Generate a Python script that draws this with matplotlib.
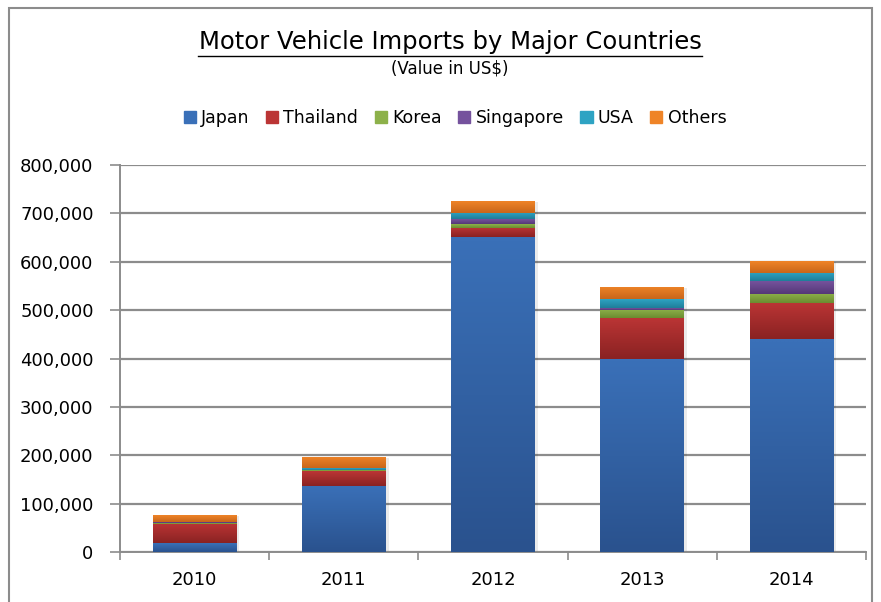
import matplotlib
matplotlib.use("Agg")
import matplotlib.pyplot as plt
import numpy as np
from matplotlib.patches import Rectangle
from matplotlib.ticker import FuncFormatter, MultipleLocator, FixedLocator

years = ["2010", "2011", "2012", "2013", "2014"]
japan = [18000, 137000, 651000, 398000, 440000]
thailand = [40000, 31000, 19000, 86000, 75000]
korea = [1000, 1000, 8000, 17000, 19000]
singapore = [3000, 1000, 10000, 4000, 26000]
usa = [1000, 4000, 13000, 18000, 17000]
others = [14000, 23000, 24000, 25000, 24000]

series = [
    ("Japan", japan, "#3a70b8", "#2a528e"),
    ("Thailand", thailand, "#bb3535", "#8a2222"),
    ("Korea", korea, "#8db14a", "#6b8c30"),
    ("Singapore", singapore, "#75529d", "#553877"),
    ("USA", usa, "#2ea3c3", "#1f7e99"),
    ("Others", others, "#ef8427", "#c9661a"),
]

plt.rcParams['font.family'] = ['DejaVu Sans']
fig = plt.figure(figsize=(8.81, 6.02), dpi=100)
ax = fig.add_axes([120/881, 1-552/602, (866-120)/881, (552-165)/602])

x = np.arange(len(years))
width = 0.56
bottom = np.zeros(len(years))
handles = []
for name, vals, ctop, cbot in series:
    vals = np.array(vals, dtype=float)
    bars = ax.bar(x, vals, width, bottom=bottom, color=ctop, label=name, zorder=3,
                  linewidth=0)
    handles.append(Rectangle((0, 0), 1, 1, color=ctop))
    grad = np.linspace(0, 1, 64).reshape(-1, 1)
    cmap = matplotlib.colors.LinearSegmentedColormap.from_list("g", [cbot, ctop])
    for b in bars:
        bx, by = b.get_x(), b.get_y()
        bw, bh = b.get_width(), b.get_height()
        if bh <= 0:
            continue
        im = ax.imshow(grad, cmap=cmap, aspect='auto', origin='lower',
                       extent=[bx, bx + bw, by, by + bh], zorder=4,
                       interpolation='bilinear')
        im.set_clip_path(b)
    bottom += vals

# subtle shadow
for i, tot in enumerate(bottom):
    ax.add_patch(Rectangle((x[i] - width/2 + 0.02, 0), width, tot - 2500,
                           facecolor="#000000", alpha=0.08, zorder=2, linewidth=0))

ax.set_xlim(-0.5, len(years) - 0.5)
ax.set_ylim(0, 800000)
ax.yaxis.set_major_locator(MultipleLocator(100000))
ax.yaxis.set_major_formatter(FuncFormatter(lambda v, p: f"{int(v):,}"))
ax.grid(axis='y', color='#8c8c8c', linewidth=1.6, zorder=1)
ax.set_xticks(x)
ax.set_xticklabels(years)
ax.xaxis.set_minor_locator(FixedLocator(np.arange(-0.5, len(years), 1)))
ax.tick_params(axis='x', which='major', length=0, pad=14, labelsize=13)
ax.tick_params(axis='x', which='minor', length=6, width=1.2, color='#8c8c8c', direction='out')
ax.tick_params(axis='y', length=7, width=1.2, color='#8c8c8c', labelsize=13, pad=12)
for s in ['top', 'right']:
    ax.spines[s].set_visible(False)
for s in ['left', 'bottom']:
    ax.spines[s].set_color('#8c8c8c')
    ax.spines[s].set_linewidth(1.4)

fig.text(450/881, 1-42/602, "Motor Vehicle Imports by Major Countries", ha='center', va='center',
         fontsize=17.5)
fig.add_artist(matplotlib.lines.Line2D([198/881, 702/881], [1-56/602, 1-56/602],
                                       color='black', linewidth=1))
fig.text(450/881, 1-69/602, "(Value in US$)", ha='center', va='center', fontsize=12)

fig.legend(handles, [s[0] for s in series], loc='center', bbox_to_anchor=(455/881, 1-118/602),
           ncol=6, frameon=False, fontsize=12.5, handlelength=0.7, handleheight=0.7,
           handletextpad=0.3, columnspacing=0.95)

fig.add_artist(Rectangle((9/881, -0.01), (872-9)/881, (602-8)/602 + 0.01,
                         transform=fig.transFigure, fill=False, edgecolor='#8c8c8c', linewidth=1.5))

fig.savefig("out.png", dpi=100)
